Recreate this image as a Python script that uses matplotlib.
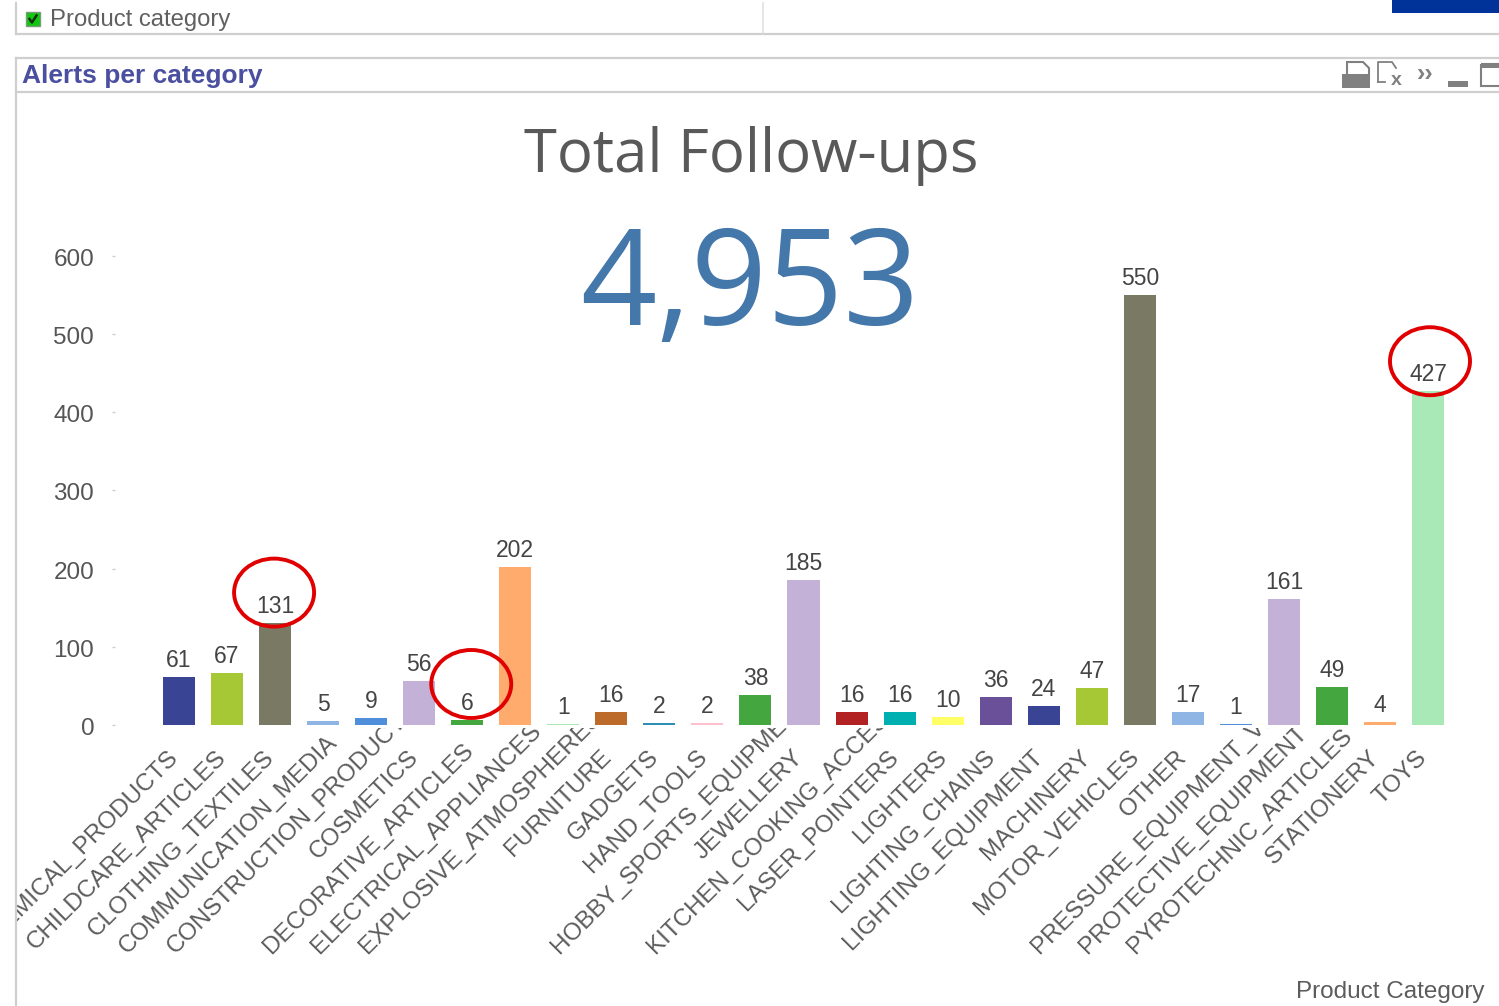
import matplotlib
matplotlib.use('Agg')
import matplotlib.pyplot as plt
from matplotlib.patches import Rectangle, Ellipse, Polygon
from matplotlib.transforms import Bbox, ScaledTranslation

plt.rcParams['font.family'] = ['Liberation Sans', 'DejaVu Sans']

categories = ['CHEMICAL_PRODUCTS', 'CHILDCARE_ARTICLES', 'CLOTHING_TEXTILES', 'COMMUNICATION_MEDIA',
              'CONSTRUCTION_PRODUCTS', 'COSMETICS', 'DECORATIVE_ARTICLES', 'ELECTRICAL_APPLIANCES',
              'EXPLOSIVE_ATMOSPHERES', 'FURNITURE', 'GADGETS', 'HAND_TOOLS', 'HOBBY_SPORTS_EQUIPMENT',
              'JEWELLERY', 'KITCHEN_COOKING_ACCESSORIES', 'LASER_POINTERS', 'LIGHTERS', 'LIGHTING_CHAINS',
              'LIGHTING_EQUIPMENT', 'MACHINERY', 'MOTOR_VEHICLES', 'OTHER', 'PRESSURE_EQUIPMENT_VESSELS',
              'PROTECTIVE_EQUIPMENT', 'PYROTECHNIC_ARTICLES', 'STATIONERY', 'TOYS']
values = [61, 67, 131, 5, 9, 56, 6, 202, 1, 16, 2, 2, 38, 185, 16, 16, 10, 36, 24, 47, 550, 17, 1, 161, 49, 4, 427]
colors = ['#3A4494', '#A6C834', '#7A7A64', '#8FB5E4', '#4F8EDB', '#C3B1D8', '#44A63F', '#FFAB6E', '#A9E9B8',
          '#BD6B2A', '#2E8FB5', '#FFC0CB', '#44A63F', '#C3B1D8', '#B22222', '#00AFAF', '#FFFF66', '#6A5098',
          '#3A4494', '#A6C834', '#7A7A64', '#8FB5E4', '#4F8EDB', '#C3B1D8', '#44A63F', '#FFAB6E', '#A9E9B8']
yticks = [0, 100, 200, 300, 400, 500, 600]
circled = [2, 6, 26]

W, H = 1499, 1006
fig = plt.figure(figsize=(W / 100, H / 100), dpi=100)

# chart area, placed in pixels
left, right, top, bottom = 115, 1452, 256, 725
step = (1428 - 179) / 26
ax = fig.add_axes([left / W, 1 - bottom / H, (right - left) / W, (bottom - top) / H])
ax.bar(range(len(values)), values, width=0.667, color=colors)
ax.set_xlim(-(179 - left) / step, 26 + (right - 1428) / step)
ax.set_ylim(0, 600)
for s in ax.spines.values():
    s.set_visible(False)
ax.set_xticks([])
ax.set_yticks(yticks)
ax.tick_params(axis='y', length=2, width=1, color='#cccccc', labelcolor='#555555', labelsize=17.5, pad=13)
nudge = ScaledTranslation(0, -1.5 / 100, fig.dpi_scale_trans)
for lab in ax.get_yticklabels():
    lab.set_transform(lab.get_transform() + nudge)

for i, v in enumerate(values):
    ax.annotate(str(v), (i, v), xytext=(0, 5), textcoords='offset pixels', ha='center', va='bottom',
                fontsize=16.5, color='#444444', annotation_clip=False, zorder=5)

# rotated labels: long ones are pushed up and get cut off under the axis
clip = Bbox.from_extents(17, 0, W, H - 728)
renderer = fig.canvas.get_renderer()
for i, name in enumerate(categories):
    t = ax.annotate(name, (i, 0), xytext=(-4, -29), textcoords='offset pixels', rotation=45, ha='right',
                    va='center', rotation_mode='anchor', fontsize=17.5, color='#5c5c5c', annotation_clip=False)
    span = t.get_window_extent(renderer).height
    if span > 212:
        t.xyann = (-4 + span - 212, -29 + span - 212)
    t.set_clip_box(clip)
    t.set_clip_on(True)

# overlay in pixel coordinates for the window frame and big texts
ov = fig.add_axes([0, 0, 1, 1], facecolor='none')
ov.set_xlim(0, W)
ov.set_ylim(H, 0)
ov.axis('off')

line = '#cfcfcf'
ov.plot([16, 16], [3, 34], color=line, lw=1.6)
ov.plot([16, W], [34, 34], color=line, lw=1.6)
ov.plot([763, 763], [3, 33], color='#e0e0e0', lw=1.2)
ov.plot([16, W], [58, 58], color=line, lw=1.6)
ov.plot([16, W], [92, 92], color=line, lw=1.6)
ov.plot([16, 16], [58, H], color=line, lw=1.6)
ov.add_patch(Rectangle((1392, 0), 107, 13, color='#003399', lw=0))

ov.add_patch(Rectangle((26, 12), 14, 14, facecolor='#10c810', edgecolor='#7a9a7a', lw=1))
ov.plot([29.5, 32, 36.5], [19, 22.5, 15.5], color='#103010', lw=1.8)
ov.text(50, 20, 'Product category', fontsize=17.2, color='#606060', va='center')
ov.text(22, 76, 'Alerts per category', fontsize=19, color='#4A4FA0', va='center', fontweight='bold')

# toolbar icons
icon = '#808080'
ov.add_patch(Polygon([(1347, 62), (1363, 62), (1369, 68), (1369, 80), (1347, 80)], fill=False, edgecolor=icon, lw=1.5))
ov.add_patch(Rectangle((1342, 74), 28, 14, color=icon, lw=0))
ov.plot([1378, 1378, 1392, 1396], [82, 62, 62, 68], color=icon, lw=1.3)
ov.plot([1378, 1385], [82, 82], color=icon, lw=1.3)
ov.text(1396, 80, 'x', fontsize=14, color=icon, ha='center', va='center', fontweight='bold')
ov.text(1425, 74, '\u203a\u203a', fontsize=18, color=icon, ha='center', va='center', fontweight='bold')
ov.add_patch(Rectangle((1448, 81), 20, 6, color=icon, lw=0))
ov.add_patch(Rectangle((1481, 64), 30, 22, fill=False, edgecolor=icon, lw=1.5))
ov.add_patch(Rectangle((1481, 64), 30, 4, color=icon, lw=0))

ov.text(751, 156, 'Total Follow-ups', fontsize=43, color='#595959', ha='center', va='center', family='Open Sans')
ov.text(750, 290, '4,953', fontsize=96, color='#4477AA', ha='center', va='center', family='Open Sans')
ov.text(1485, 992, 'Product Category', fontsize=17.5, color='#5c5c5c', ha='right', va='center')

# red circles around some of the bar values, located from the bar they mark
for i, dx in zip(circled, (-1, 4, 2)):
    x, y = ov.transData.inverted().transform(ax.transData.transform((i, values[i])))
    ov.add_patch(Ellipse((x + dx, min(y - 30, 684)), 80, 68, fill=False, edgecolor='#E00000', lw=2.8))

fig.savefig('out.png', dpi=100)
